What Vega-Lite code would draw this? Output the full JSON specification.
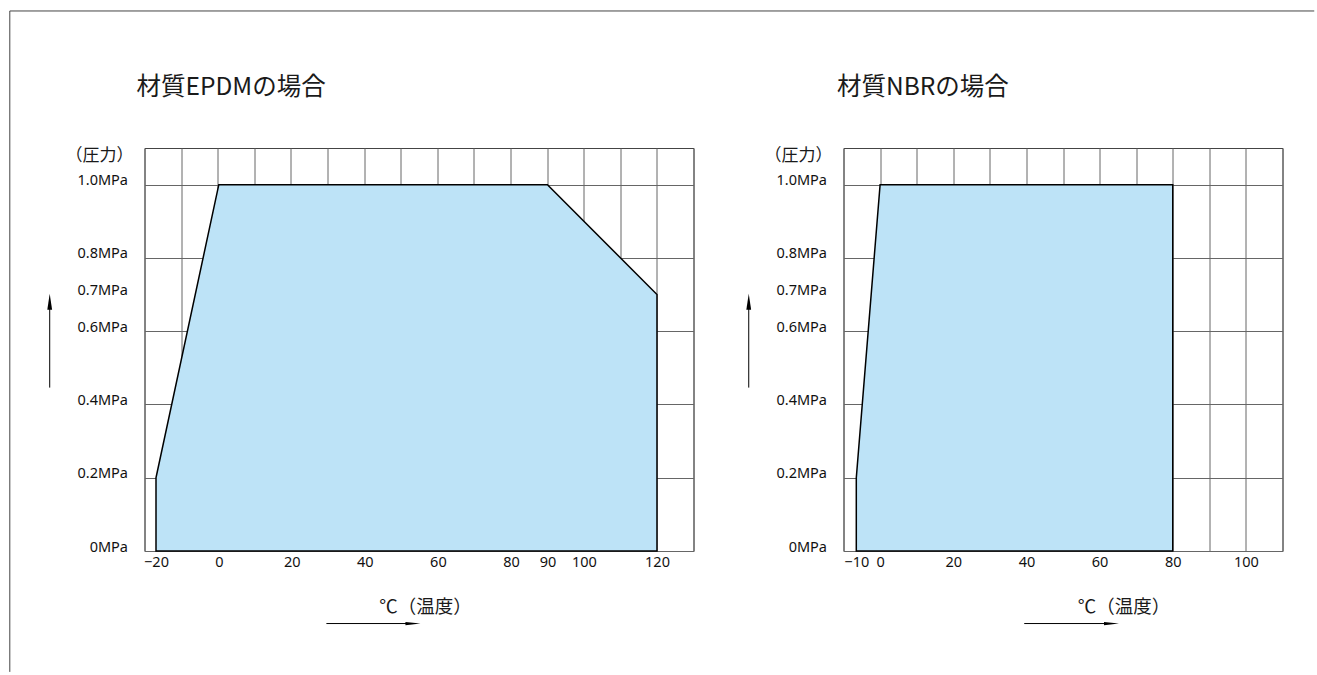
{
  "$schema": "https://vega.github.io/schema/vega-lite/v6.json",
  "padding": {"left": 8.5, "top": 9, "right": 0, "bottom": 0},
  "background": "white",
  "bounds": "flush",
  "spacing": 150,
  "config": {
    "view": {"stroke": "#444", "strokeWidth": 1},
    "axis": {"labelFont": "Noto Sans", "labelColor": "#111", "labelFontSize": 14.5}
  },
  "hconcat": [
    {
      "width": 549,
      "height": 403,
      "resolve": {"scale": {"x": "independent"}, "axis": {"x": "independent"}},
      "layer": [
        {
          "data": {"values": [{"label": "タイトシャット"}]},
          "layer": [
            {
              "mark": {"type": "rule", "color": "#444", "strokeWidth": 1},
              "encoding": {
                "x": {"datum": -56.8, "type": "quantitative", "scale": {"domain": [-20, 130], "nice": false, "zero": false},
                  "axis": {"orient": "top", "values": [-20,-10,0,10,20,30,40,50,60,70,80,90,100,110,120,130], "grid": true, "gridColor": "#666", "labels": false, "ticks": false, "tickSize": 0, "domain": false, "title": null}},
                "y": {"datum": -0.33, "type": "quantitative", "scale": {"domain": [0, 1.1], "nice": false, "zero": false},
                  "axis": {"orient": "left", "values": [0, 0.2, 0.4, 0.6, 0.7, 0.8, 1.0], "grid": true, "gridColor": "#666",
                    "gridOpacity": {"condition": {"test": "datum.value > 0.69 && datum.value < 0.71", "value": 0}, "value": 1},
                    "ticks": false, "tickSize": 0, "domain": false, "labelPadding": 17, "labelBaseline": "alphabetic", "labelFlush": false, "labelOverlap": false,
                    "labelExpr": "datum.value == 0 ? '0MPa' : format(datum.value, '.1f') + 'MPa'", "title": null}},
                "y2": {"datum": 1.474}
              }
            },
            {
              "mark": {"type": "rule", "color": "#444", "strokeWidth": 1},
              "encoding": {
                "x": {"datum": -56.8, "type": "quantitative",
                  "axis": {"orient": "top", "values": [-20,-10,0,10,20,30,40,50,60,70,80,90,100,110,120,130], "grid": true, "gridColor": "#666", "labels": false, "ticks": false, "tickSize": 0, "domain": false, "title": null}},
                "x2": {"datum": 299.6},
                "y": {"datum": 1.474, "type": "quantitative"}
              }
            },
            {
              "mark": {"type": "text", "text": "材質EPDMの場合", "font": "Noto Sans CJK JP", "fontSize": 24.5, "align": "left", "baseline": "middle", "color": "#1a1a1a"},
              "encoding": {
                "x": {"datum": -22.2, "type": "quantitative",
                  "axis": {"orient": "top", "values": [-20,-10,0,10,20,30,40,50,60,70,80,90,100,110,120,130], "grid": true, "gridColor": "#666", "labels": false, "ticks": false, "tickSize": 0, "domain": false, "title": null}},
                "y": {"datum": 1.265, "type": "quantitative"}
              }
            },
            {
              "mark": {"type": "text", "text": "（圧力）", "font": "Noto Sans CJK JP", "fontSize": 17, "align": "center", "baseline": "middle", "color": "#1a1a1a"},
              "encoding": {
                "x": {"datum": -32.3, "type": "quantitative",
                  "axis": {"orient": "top", "values": [-20,-10,0,10,20,30,40,50,60,70,80,90,100,110,120,130], "grid": true, "gridColor": "#666", "labels": false, "ticks": false, "tickSize": 0, "domain": false, "title": null}},
                "y": {"datum": 1.078, "type": "quantitative"}
              }
            },
            {
              "mark": {"type": "rule", "color": "#000", "strokeWidth": 1},
              "encoding": {
                "x": {"datum": -45.9, "type": "quantitative",
                  "axis": {"orient": "top", "values": [-20,-10,0,10,20,30,40,50,60,70,80,90,100,110,120,130], "grid": true, "gridColor": "#666", "labels": false, "ticks": false, "tickSize": 0, "domain": false, "title": null}},
                "y": {"datum": 0.446, "type": "quantitative"},
                "y2": {"datum": 0.68}
              }
            },
            {
              "mark": {"type": "point", "shape": "M0,-1L0.3,1L-0.3,1Z", "size": 256, "filled": true, "color": "#000", "opacity": 1},
              "encoding": {
                "x": {"datum": -45.9, "type": "quantitative",
                  "axis": {"orient": "top", "values": [-20,-10,0,10,20,30,40,50,60,70,80,90,100,110,120,130], "grid": true, "gridColor": "#666", "labels": false, "ticks": false, "tickSize": 0, "domain": false, "title": null}},
                "y": {"datum": 0.68, "type": "quantitative"}
              }
            },
            {
              "mark": {"type": "text", "text": "℃（温度）", "font": "Noto Sans CJK JP", "fontSize": 18.5, "align": "center", "baseline": "middle", "color": "#1a1a1a"},
              "encoding": {
                "x": {"datum": 56.8, "type": "quantitative",
                  "axis": {"orient": "top", "values": [-20,-10,0,10,20,30,40,50,60,70,80,90,100,110,120,130], "grid": true, "gridColor": "#666", "labels": false, "ticks": false, "tickSize": 0, "domain": false, "title": null}},
                "y": {"datum": -0.153, "type": "quantitative"}
              }
            },
            {
              "mark": {"type": "rule", "color": "#000", "strokeWidth": 1},
              "encoding": {
                "x": {"datum": 29.7, "type": "quantitative",
                  "axis": {"orient": "top", "values": [-20,-10,0,10,20,30,40,50,60,70,80,90,100,110,120,130], "grid": true, "gridColor": "#666", "labels": false, "ticks": false, "tickSize": 0, "domain": false, "title": null}},
                "x2": {"datum": 53.4},
                "y": {"datum": -0.198, "type": "quantitative"}
              }
            },
            {
              "mark": {"type": "point", "shape": "M1,0L-1,-0.22L-1,0.22Z", "size": 225, "filled": true, "color": "#000", "opacity": 1},
              "encoding": {
                "x": {"datum": 53.35, "type": "quantitative",
                  "axis": {"orient": "top", "values": [-20,-10,0,10,20,30,40,50,60,70,80,90,100,110,120,130], "grid": true, "gridColor": "#666", "labels": false, "ticks": false, "tickSize": 0, "domain": false, "title": null}},
                "y": {"datum": -0.198, "type": "quantitative"}
              }
            },
            {
              "mark": {"type": "rect", "fill": "white", "stroke": "#444", "strokeWidth": 1},
              "encoding": {
                "x": {"datum": 32.5, "type": "quantitative",
                  "axis": {"orient": "top", "values": [-20,-10,0,10,20,30,40,50,60,70,80,90,100,110,120,130], "grid": true, "gridColor": "#666", "labels": false, "ticks": false, "tickSize": 0, "domain": false, "title": null}},
                "x2": {"datum": 79.2},
                "y": {"datum": 0.409, "type": "quantitative"},
                "y2": {"datum": 0.52}
              }
            },
            {
              "mark": {"type": "text", "font": "Noto Sans CJK JP", "fontSize": 20, "align": "center", "baseline": "middle", "color": "#111"},
              "encoding": {
                "text": {"field": "label"},
                "x": {"datum": 55.85, "type": "quantitative",
                  "axis": {"orient": "top", "values": [-20,-10,0,10,20,30,40,50,60,70,80,90,100,110,120,130], "grid": true, "gridColor": "#666", "labels": false, "ticks": false, "tickSize": 0, "domain": false, "title": null}},
                "y": {"datum": 0.465, "type": "quantitative"}
              }
            }
          ]
        },
        {
          "data": {"values": [
            {"temp": -20, "pressure": 0.2},
            {"temp": 0, "pressure": 1.0},
            {"temp": 90, "pressure": 1.0},
            {"temp": 120, "pressure": 0.7}
          ]},
          "mark": {"type": "area", "fill": "#bde3f7", "fillOpacity": 1, "stroke": "#000", "strokeWidth": 1.5},
          "encoding": {
            "x": {"field": "temp", "type": "quantitative", "scale": {"domain": [-20, 0, 130], "range": [11.5, 74.3, 549]},
              "axis": {"orient": "bottom", "values": [-20, 0, 20, 40, 60, 80, 90, 100, 120], "grid": false, "ticks": false, "tickSize": 0, "domain": false,
                "labelPadding": 4, "labelOverlap": false, "labelFlush": false, "labelBound": false,
                "labelExpr": "datum.value < 0 ? '−' + (-datum.value) : '' + datum.value", "title": null}},
            "y": {"field": "pressure", "type": "quantitative", "scale": {"domain": [0, 1.1], "nice": false, "zero": false}}
          }
        }
      ]
    },
    {
      "width": 439,
      "height": 403,
      "resolve": {"scale": {"x": "independent"}, "axis": {"x": "independent"}},
      "layer": [
        {
          "data": {"values": [{"label": "タイトシャット"}]},
          "layer": [
            {
              "mark": {"type": "text", "text": "材質NBRの場合", "font": "Noto Sans CJK JP", "fontSize": 24.5, "align": "left", "baseline": "middle", "color": "#1a1a1a"},
              "encoding": {
                "x": {"datum": -11.8, "type": "quantitative", "scale": {"domain": [-10, 110], "nice": false, "zero": false},
                  "axis": {"orient": "top", "values": [-10,0,10,20,30,40,50,60,70,80,90,100,110], "grid": true, "gridColor": "#666", "labels": false, "ticks": false, "tickSize": 0, "domain": false, "title": null}},
                "y": {"datum": 1.265, "type": "quantitative", "scale": {"domain": [0, 1.1], "nice": false, "zero": false},
                  "axis": {"orient": "left", "values": [0, 0.2, 0.4, 0.6, 0.7, 0.8, 1.0], "grid": true, "gridColor": "#666",
                    "gridOpacity": {"condition": {"test": "datum.value > 0.69 && datum.value < 0.71", "value": 0}, "value": 1},
                    "ticks": false, "tickSize": 0, "domain": false, "labelPadding": 17, "labelBaseline": "alphabetic", "labelFlush": false, "labelOverlap": false,
                    "labelExpr": "datum.value == 0 ? '0MPa' : format(datum.value, '.1f') + 'MPa'", "title": null}}
              }
            },
            {
              "mark": {"type": "text", "text": "（圧力）", "font": "Noto Sans CJK JP", "fontSize": 17, "align": "center", "baseline": "middle", "color": "#1a1a1a"},
              "encoding": {
                "x": {"datum": -22.3, "type": "quantitative",
                  "axis": {"orient": "top", "values": [-10,0,10,20,30,40,50,60,70,80,90,100,110], "grid": true, "gridColor": "#666", "labels": false, "ticks": false, "tickSize": 0, "domain": false, "title": null}},
                "y": {"datum": 1.078, "type": "quantitative"}
              }
            },
            {
              "mark": {"type": "rule", "color": "#000", "strokeWidth": 1},
              "encoding": {
                "x": {"datum": -35.9, "type": "quantitative",
                  "axis": {"orient": "top", "values": [-10,0,10,20,30,40,50,60,70,80,90,100,110], "grid": true, "gridColor": "#666", "labels": false, "ticks": false, "tickSize": 0, "domain": false, "title": null}},
                "y": {"datum": 0.446, "type": "quantitative"},
                "y2": {"datum": 0.68}
              }
            },
            {
              "mark": {"type": "point", "shape": "M0,-1L0.3,1L-0.3,1Z", "size": 256, "filled": true, "color": "#000", "opacity": 1},
              "encoding": {
                "x": {"datum": -35.9, "type": "quantitative",
                  "axis": {"orient": "top", "values": [-10,0,10,20,30,40,50,60,70,80,90,100,110], "grid": true, "gridColor": "#666", "labels": false, "ticks": false, "tickSize": 0, "domain": false, "title": null}},
                "y": {"datum": 0.68, "type": "quantitative"}
              }
            },
            {
              "mark": {"type": "text", "text": "℃（温度）", "font": "Noto Sans CJK JP", "fontSize": 18.5, "align": "center", "baseline": "middle", "color": "#1a1a1a"},
              "encoding": {
                "x": {"datum": 66.7, "type": "quantitative",
                  "axis": {"orient": "top", "values": [-10,0,10,20,30,40,50,60,70,80,90,100,110], "grid": true, "gridColor": "#666", "labels": false, "ticks": false, "tickSize": 0, "domain": false, "title": null}},
                "y": {"datum": -0.153, "type": "quantitative"}
              }
            },
            {
              "mark": {"type": "rule", "color": "#000", "strokeWidth": 1},
              "encoding": {
                "x": {"datum": 39.4, "type": "quantitative",
                  "axis": {"orient": "top", "values": [-10,0,10,20,30,40,50,60,70,80,90,100,110], "grid": true, "gridColor": "#666", "labels": false, "ticks": false, "tickSize": 0, "domain": false, "title": null}},
                "x2": {"datum": 63.3},
                "y": {"datum": -0.198, "type": "quantitative"}
              }
            },
            {
              "mark": {"type": "point", "shape": "M1,0L-1,-0.22L-1,0.22Z", "size": 225, "filled": true, "color": "#000", "opacity": 1},
              "encoding": {
                "x": {"datum": 63.25, "type": "quantitative",
                  "axis": {"orient": "top", "values": [-10,0,10,20,30,40,50,60,70,80,90,100,110], "grid": true, "gridColor": "#666", "labels": false, "ticks": false, "tickSize": 0, "domain": false, "title": null}},
                "y": {"datum": -0.198, "type": "quantitative"}
              }
            },
            {
              "mark": {"type": "rect", "fill": "white", "stroke": "#444", "strokeWidth": 1},
              "encoding": {
                "x": {"datum": 16.9, "type": "quantitative",
                  "axis": {"orient": "top", "values": [-10,0,10,20,30,40,50,60,70,80,90,100,110], "grid": true, "gridColor": "#666", "labels": false, "ticks": false, "tickSize": 0, "domain": false, "title": null}},
                "x2": {"datum": 63.6},
                "y": {"datum": 0.409, "type": "quantitative"},
                "y2": {"datum": 0.52}
              }
            },
            {
              "mark": {"type": "text", "font": "Noto Sans CJK JP", "fontSize": 20, "align": "center", "baseline": "middle", "color": "#111"},
              "encoding": {
                "text": {"field": "label"},
                "x": {"datum": 40.25, "type": "quantitative",
                  "axis": {"orient": "top", "values": [-10,0,10,20,30,40,50,60,70,80,90,100,110], "grid": true, "gridColor": "#666", "labels": false, "ticks": false, "tickSize": 0, "domain": false, "title": null}},
                "y": {"datum": 0.465, "type": "quantitative"}
              }
            }
          ]
        },
        {
          "data": {"values": [
            {"temp": -10, "pressure": 0.2},
            {"temp": 0, "pressure": 1.0},
            {"temp": 80, "pressure": 1.0}
          ]},
          "mark": {"type": "area", "fill": "#bde3f7", "fillOpacity": 1, "stroke": "#000", "strokeWidth": 1.5},
          "encoding": {
            "x": {"field": "temp", "type": "quantitative", "scale": {"domain": [-10, 0, 110], "range": [12.8, 36.6, 439]},
              "axis": {"orient": "bottom", "values": [-10, 0, 20, 40, 60, 80, 100], "grid": false, "ticks": false, "tickSize": 0, "domain": false,
                "labelPadding": 4, "labelOverlap": false, "labelFlush": false, "labelBound": false,
                "labelExpr": "datum.value < 0 ? '−' + (-datum.value) : '' + datum.value", "title": null}},
            "y": {"field": "pressure", "type": "quantitative", "scale": {"domain": [0, 1.1], "nice": false, "zero": false}}
          }
        }
      ]
    }
  ]
}
